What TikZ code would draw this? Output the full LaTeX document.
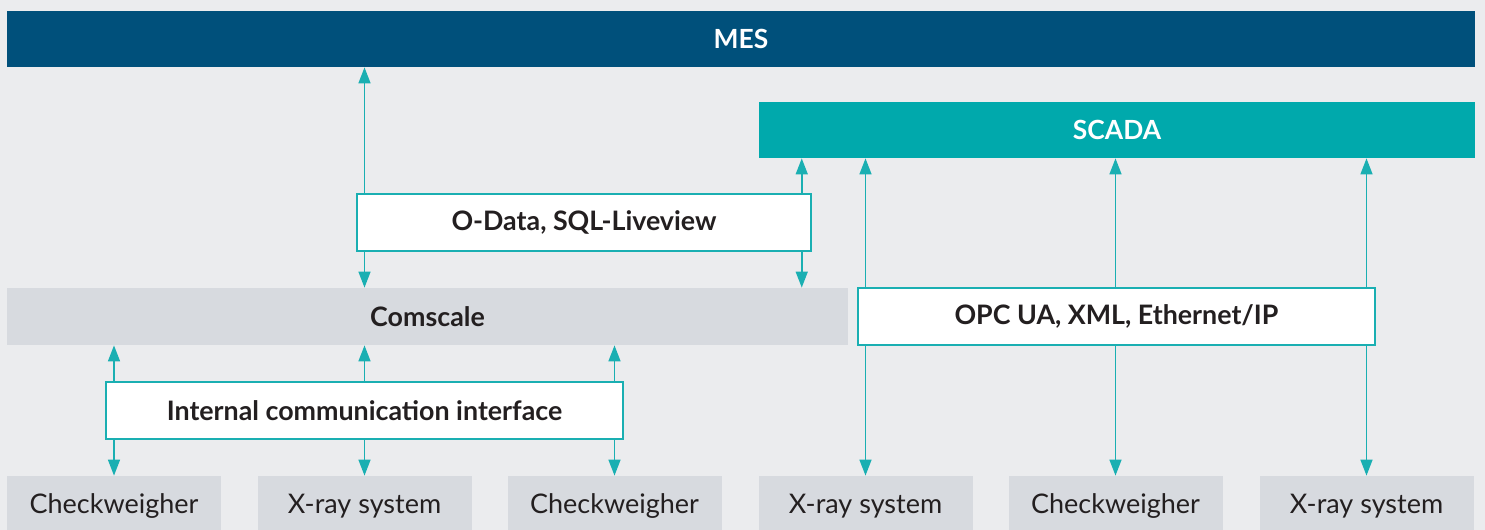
\documentclass[tikz,border=0pt]{standalone}
\usepackage{fontspec}
\setmainfont{Lato}
\usetikzlibrary{arrows.meta,positioning}
\definecolor{mesblue}{HTML}{00507B}
\definecolor{scadateal}{HTML}{00A9AC}
\definecolor{linkteal}{HTML}{1AAFB2}
\definecolor{paper}{HTML}{EBECEE}
\definecolor{boxgrey}{HTML}{D7DADF}
\definecolor{ink}{HTML}{231F20}
\tikzset{
	bar/.style={fill=#1, text=white, inner sep=0pt, minimum height=28pt,
		font=\bfseries\fontsize{13.2}{15}\selectfont},
	proto/.style={fill=white, draw=linkteal, line width=0.75pt, text=ink, inner sep=0pt,
		minimum height=28.5pt, font=\bfseries\fontsize{13.4}{15}\selectfont},
	layer/.style={fill=boxgrey, text=ink, inner sep=0pt, minimum height=28.5pt,
		font=\bfseries\fontsize{13.4}{15}\selectfont},
	device/.style={fill=boxgrey, text=ink, inner sep=0pt, minimum width=107pt,
		minimum height=30pt, font=\fontsize{13.5}{15}\selectfont},
	link/.style={draw=linkteal, line width=0.75pt, -{Triangle[width=6pt,length=8pt]}}
}

\begin{document}
\begin{tikzpicture}[x=0.5pt, y=-0.5pt]
		%%%%% START %%%%%
		
		\fill[paper] (0, 0) rectangle (1485, 530);
		\useasboundingbox (0, 0) rectangle (1485, 530);
		
		\node[bar=mesblue, minimum width=734pt] (mes) at (741, 39) {MES};
		\node[bar=scadateal, minimum width=358pt] (scada) at (1117, 130) {SCADA};
		
		\node[proto, minimum width=227pt] (odata) at (584, 222.5) {O-Data, SQL-Liveview};
		\node[layer, minimum width=420.5pt] (comscale) at (427.5, 316.5) {Comscale};
		\node[proto, minimum width=258.5pt] (opc) at (1116.5, 316.5) {OPC UA, XML, Ethernet/IP};
		\node[proto, minimum width=258.5pt] (internal) at (364.5, 410.5) {Internal communication interface};
		
		\node[device] (dev1) at (114, 506) {Checkweigher};
		\node[device] (dev2) at (364.5, 506) {X-ray system};
		\node[device] (dev3) at (614.5, 506) {Checkweigher};
		\node[device] (dev4) at (865.5, 506) {X-ray system};
		\node[device] (dev5) at (1115.5, 506) {Checkweigher};
		\node[device] (dev6) at (1366.5, 506) {X-ray system};
		
		% O-Data up to MES / SCADA, down to Comscale
		\coordinate (odright) at ([xshift=-5pt]odata.north east);
		\draw[link] (odata.north -| dev2) -- (mes.south -| dev2);
		\draw[link] (odata.south -| dev2) -- (comscale.north -| dev2);
		\draw[link] (odata.north -| odright) -- (scada.south -| odright);
		\draw[link] (odata.south -| odright) -- (comscale.north -| odright);
		
		% internal interface and OPC links
		\foreach \d in {dev1, dev2, dev3} {
			\draw[link] (internal.north -| \d) -- (comscale.south -| \d);
			\draw[link] (internal.south -| \d) -- (\d.north);
		}
		\foreach \d in {dev4, dev5, dev6} {
			\draw[link] (opc.north -| \d) -- (scada.south -| \d);
			\draw[link] (opc.south -| \d) -- (\d.north);
		}
		
		%%%%% END %%%%%
	\end{tikzpicture}
\end{document}
